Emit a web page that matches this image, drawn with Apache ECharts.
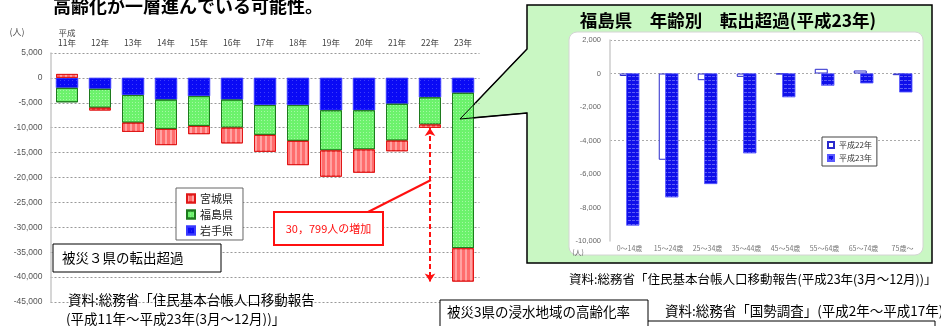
<!DOCTYPE html>
<html><head><meta charset="utf-8">
<script src="https://cdn.jsdelivr.net/npm/echarts@6/dist/echarts.min.js"></script>
<style>html,body{margin:0;padding:0;background:#fff}#c{width:941px;height:326px}</style>
</head><body><div id="c"></div>
<script>
// Main chart: net out-migration of the 3 disaster-affected prefectures
const years = ['平成\n11年','12年','13年','14年','15年','16年','17年','18年','19年','20年','21年','22年','23年'];
const iwate = [-2000,-2200,-3450,-4350,-3650,-4350,-5450,-5450,-6500,-6500,-5200,-3900,-3000];
const fukushima = [-2900,-3800,-5550,-5900,-6000,-5650,-6000,-7200,-8070,-7870,-7400,-5470,-31200];
const miyagi = [800,-550,-1850,-3250,-1650,-3150,-3400,-4870,-5270,-4670,-2130,-670,-6700];
const mainTicks = {min:-45000, max:5000, interval:5000};

// Inset chart: Fukushima by age
const ageGroups = ['0～14歳','15～24歳','25～34歳','35～44歳','45～54歳','55～64歳','65～74歳','75歳～'];
const h22 = [-150,-5150,-400,-200,-50,280,180,-100];
const h23 = [-9070,-7390,-6590,-4760,-1410,-720,-580,-1120];
const insetTicks = {min:-10000, max:2000, interval:2000};

const JP = "'Noto Sans CJK JP', sans-serif";
function fmt(v){ const s = Math.abs(v).toString().replace(/\B(?=(\d{3})+(?!\d))/g, ','); return (v<0?'-':'') + s; }
function negTotal(i){ let t=0; [iwate,fukushima,miyagi].forEach(a=>{ if(a[i]<0) t+=a[i]; }); return t; }
const i22 = 11, i23 = 12;

const chart = echarts.init(document.getElementById('c'), null, {renderer:'canvas'});
chart.setOption({
  animation:false,
  textStyle:{fontFamily:JP},
  grid:[
    {left:50.5, right:461.5, top:53, bottom:24},
    {left:610, right:19, top:40, bottom:85}
  ],
  xAxis:[
    {type:'category', gridIndex:0, data:years, position:'top', z:3,
     axisLine:{show:false, onZero:false}, axisTick:{show:false},
     axisLabel:{fontSize:8.5, color:'#444', margin:5, lineHeight:10, interval:0}},
    {type:'category', gridIndex:1, data:ageGroups, position:'bottom', z:3,
     axisLine:{show:false, onZero:false}, axisTick:{show:false},
     axisLabel:{fontSize:7, color:'#777', margin:4, interval:0}}
  ],
  yAxis:[
    {type:'value', gridIndex:0, min:mainTicks.min, max:mainTicks.max, interval:mainTicks.interval, z:3,
     axisLine:{show:true, lineStyle:{color:'#c8c8c8', width:1.5}}, axisTick:{show:false},
     axisLabel:{fontSize:8.5, color:'#555', margin:8, formatter:fmt, fontFamily:'Liberation Sans, sans-serif'},
     splitLine:{show:true, lineStyle:{color:'#999', type:[2,2], width:1}}},
    {type:'value', gridIndex:1, min:insetTicks.min, max:insetTicks.max, interval:insetTicks.interval, z:3,
     axisLine:{show:true, lineStyle:{color:'#ccc', width:1.5}}, axisTick:{show:false},
     axisLabel:{fontSize:7.5, color:'#666', margin:9, formatter:fmt, fontFamily:'Liberation Sans, sans-serif'},
     splitLine:{show:false}}
  ],
  legend:[
    {left:176, top:188, orient:'vertical', data:['宮城県','福島県','岩手県'],
     padding:[5,10,4,10], itemGap:5, itemWidth:8, itemHeight:8, icon:'rect',
     backgroundColor:'#fff', borderColor:'#666', borderWidth:1, z:10,
     textStyle:{fontSize:11, color:'#222', fontFamily:JP}},
    {left:822, top:137, orient:'vertical', data:['平成22年','平成23年'],
     padding:[4,5,4,5], itemGap:5, itemWidth:6, itemHeight:6, icon:'rect',
     backgroundColor:'#fff', borderColor:'#444', borderWidth:1, z:10,
     textStyle:{fontSize:8, color:'#333', fontFamily:JP}}
  ],
  series:[
    {name:'岩手県', type:'bar', stack:'a', xAxisIndex:0, yAxisIndex:0, data:iwate, barWidth:22, z:4,
     itemStyle:{color:'#0a0af5', borderColor:'#3a3aff', borderWidth:0.5,
       decal:{symbol:'rect', symbolSize:1, dashArrayX:[[1,3]], dashArrayY:[1,3], color:'rgba(160,160,255,0.35)'}}},
    {name:'福島県', type:'bar', stack:'a', xAxisIndex:0, yAxisIndex:0, data:fukushima, barWidth:22, z:4,
     itemStyle:{color:'#6cf26c', borderColor:'#1e7a1e', borderWidth:1,
       decal:{symbol:'rect', symbolSize:1, dashArrayX:[[1,2]], dashArrayY:[1,2], color:'rgba(220,255,220,0.5)'}}},
    {name:'宮城県', type:'bar', stack:'a', xAxisIndex:0, yAxisIndex:0, data:miyagi, barWidth:22, z:4,
     itemStyle:{color:'#ff6c6c', borderColor:'#e01818', borderWidth:1,
       decal:{symbol:'rect', symbolSize:1, dashArrayX:[[2,3]], dashArrayY:[10,0], color:'rgba(255,185,185,0.7)'}},
     markLine:{silent:true, symbol:['arrow','arrow'], symbolSize:[8,8], z:6,
       lineStyle:{color:'#ff1010', type:[5,3], width:2}, label:{show:false},
       data:[[{coord:[i22, negTotal(i22)]},{coord:[i22, negTotal(i23)]}]]}},
    {name:'平成22年', type:'bar', xAxisIndex:1, yAxisIndex:1, data:h22, barWidth:13, barGap:'-50%', z:4,
     itemStyle:{color:'#fff', borderColor:'#2a2acc', borderWidth:1},
     markLine:{silent:true, symbol:'none', z:3, label:{show:false},
       lineStyle:{color:'#aaa', type:[2,2], width:1},
       data:[{yAxis:2000},{yAxis:0},{yAxis:-4000}]}},
    {name:'平成23年', type:'bar', xAxisIndex:1, yAxisIndex:1, data:h23, barWidth:13, barGap:'-50%', z:4,
     itemStyle:{color:'#1010ea', borderColor:'#5a5aff', borderWidth:0.5,
       decal:{symbol:'rect', symbolSize:1, dashArrayX:[[3,1]], dashArrayY:[1,3], color:'rgba(190,190,255,0.45)'}}}
  ],
  graphic:[
    {type:'polygon', z:0, shape:{points:[[527,5],[932,5],[932,263],[527,263],[527,113],[460,119],[527,49]]},
     style:{fill:'#c9f7c3', stroke:'#000', lineWidth:1.5}},
    {type:'polyline', z:20, shape:{points:[[527,49],[460,119],[527,113]]}, style:{stroke:'#000', lineWidth:1, fill:null}},
    {type:'rect', z:1, shape:{x:569, y:32, width:354, height:223, r:8}, style:{fill:'#fff', stroke:'#d4d4d4', lineWidth:1}},
    {type:'text', z:20, x:728, y:20, style:{text:'福島県　年齢別　転出超過(平成23年)', font:'bold 17.5px '+JP, fill:'#000', align:'center', verticalAlign:'middle'}},
    {type:'text', z:20, x:578, y:252, style:{text:'(人)', font:'7px '+JP, fill:'#666', align:'center', verticalAlign:'middle'}},
    {type:'text', z:20, x:53, y:6, style:{text:'高齢化が一層進んでいる可能性。', font:'bold 18px '+JP, fill:'#000', verticalAlign:'middle'}},
    {type:'text', z:20, x:17, y:32, style:{text:'(人)', font:'9px '+JP, fill:'#555', align:'center', verticalAlign:'middle'}},
    {type:'rect', z:20, shape:{x:53, y:244, width:168, height:28}, style:{fill:'#fff', stroke:'#000', lineWidth:1}},
    {type:'text', z:21, x:62, y:258, style:{text:'被災３県の転出超過', font:'13.5px '+JP, fill:'#000', verticalAlign:'middle'}},
    {type:'line', z:20, shape:{x1:368, y1:212, x2:431, y2:180}, style:{stroke:'#ff1010', lineWidth:2}},
    {type:'rect', z:20, shape:{x:274, y:212, width:109, height:33}, style:{fill:'#fff', stroke:'#ff1010', lineWidth:2}},
    {type:'text', z:21, x:328.5, y:228.5, style:{text:'30，799人の増加', font:'11px '+JP, fill:'#ff1010', align:'center', verticalAlign:'middle'}},
    {type:'text', z:20, x:68, y:300, style:{text:'資料:総務省「住民基本台帳人口移動報告', font:'13.5px '+JP, fill:'#000', verticalAlign:'middle'}},
    {type:'text', z:20, x:66, y:319, style:{text:'(平成11年～平成23年(3月～12月))」', font:'13.5px '+JP, fill:'#000', verticalAlign:'middle'}},
    {type:'text', z:20, x:569, y:279, style:{text:'資料:総務省「住民基本台帳人口移動報告(平成23年(3月～12月))」', font:'12.5px '+JP, fill:'#000', verticalAlign:'middle'}},
    {type:'rect', z:20, shape:{x:440, y:300, width:208, height:32}, style:{fill:'#fff', stroke:'#000', lineWidth:1}},
    {type:'text', z:21, x:447, y:312, style:{text:'被災3県の浸水地域の高齢化率', font:'13.5px '+JP, fill:'#000', verticalAlign:'middle'}},
    {type:'text', z:20, x:665, y:311, style:{text:'資料:総務省「国勢調査」(平成2年～平成17年)', font:'13.5px '+JP, fill:'#000', verticalAlign:'middle'}},
    {type:'polyline', z:20, shape:{points:[[648,321],[935,321],[935,330]]}, style:{stroke:'#000', lineWidth:1, fill:null}}
  ]
});
</script></body></html>
